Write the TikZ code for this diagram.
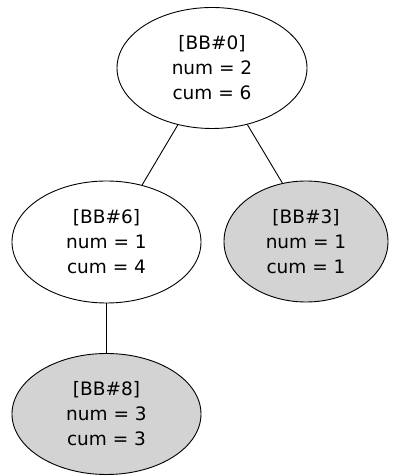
\documentclass[tikz,border=0pt]{standalone}
\usepackage{fontspec}
\setmainfont{DejaVu Sans}
\usetikzlibrary{shapes.geometric}
\definecolor{leafgray}{RGB}{211,211,211}
\tikzset{
  bb/.style={ellipse, draw=black, line width=0.9pt, inner sep=0pt, align=center,
    font=\fontsize{18.5}{25}\selectfont},
  leaf/.style={bb, fill=leafgray},
  conn/.style={draw=black, line width=0.9pt}
}
\begin{document}
\begin{tikzpicture}[x=1pt,y=1pt]
\useasboundingbox (0,0) rectangle (403,476);
\node[bb, minimum width=190pt, minimum height=121pt] (b0) at (212,408) {[BB\#0]\\num = 2\\cum = 6};
\node[bb, minimum width=189pt, minimum height=122pt] (b6) at (106.5,234) {[BB\#6]\\num = 1\\cum = 4};
\node[leaf, minimum width=164pt, minimum height=121pt] (b3) at (306,234.5) {[BB\#3]\\num = 1\\cum = 1};
\node[leaf, minimum width=189pt, minimum height=121pt] (b8) at (106.5,62) {[BB\#8]\\num = 3\\cum = 3};
\draw[conn] (b0.-121) -- (b6.58);
\draw[conn] (b0.-58) -- (b3.112);
\draw[conn] (b6) -- (b8);
\end{tikzpicture}
\end{document}
